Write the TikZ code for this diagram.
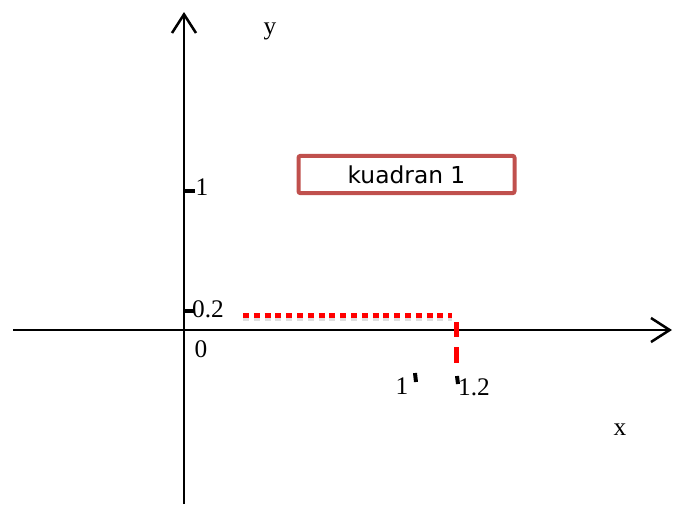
\documentclass[tikz,border=0pt]{standalone}
\usepackage{fontspec}
\setmainfont{Liberation Serif}
\newfontfamily\boxfont{DejaVu Sans}
\usetikzlibrary{arrows.meta}
\definecolor{boxred}{HTML}{C0504D}
\tikzset{
  axis/.style={line width=1.9pt,-{Straight Barb[length=14pt,width=18pt,line width=1.9pt]}},
  ytick/.style={line width=3pt},
  smalltick/.style={line width=3pt},
  lbl/.style={inner sep=0pt,font=\fontsize{19}{21}\selectfont},
  axlbl/.style={inner sep=0pt,font=\fontsize{19}{21}\selectfont},
  reddot/.style={red,line width=3.75pt,dash pattern=on 4.5pt off 3.6pt},
  reddash/.style={red,line width=3.75pt,dash pattern=on 11.5pt off 7.5pt},
  quadbox/.style={draw=boxred,line width=3pt,rounded corners=1.5pt,minimum width=162pt,minimum height=28pt,inner sep=0pt,font=\boxfont\fontsize{17.5}{20}\selectfont}
}
\begin{document}
\begin{tikzpicture}[x=0.75pt,y=-0.75pt]
\useasboundingbox (0,0) rectangle (674,504);
% axes
\coordinate (xs) at (13,330);
\coordinate (xe) at (672,330);
\coordinate (ys) at (184,504);
\coordinate (ye) at (184,12);
\draw[axis] (xs) -- (xe);
\draw[axis] (ys) -- (ye);
\node[axlbl] (ylab) at (270,31) {y};
\node[axlbl] (xlab) at (620,430) {x};
% y ticks
\coordinate (t1a) at (183,190.5);
\coordinate (t1b) at (195,190.5);
\coordinate (t2a) at (183,311);
\coordinate (t2b) at (195,311);
\draw[ytick] (t1a) -- (t1b);
\draw[ytick] (t2a) -- (t2b);
\node[lbl] (l1) at (202,187) {1};
\node[lbl] (l02) at (208,309) {0.2};
\node[lbl] (l0) at (201,349) {0};
% x ticks
\coordinate (xt1a) at (415,373);
\coordinate (xt1b) at (416,382);
\coordinate (xt2a) at (457,376);
\coordinate (xt2b) at (458,384);
\draw[smalltick] (xt1a) -- (xt1b);
\draw[smalltick] (xt2a) -- (xt2b);
\node[lbl] (lx1) at (402,386) {1};
\node[lbl] (lx12) at (474,387) {1.2};
% red lines
\coordinate (ra) at (243,315);
\coordinate (rb) at (452,315);
\coordinate (va) at (456,322);
\coordinate (vb) at (456,363);
\draw[black!25,opacity=0.5,line width=3pt,dash pattern=on 4.5pt off 3.6pt] ([yshift=-3pt]ra) -- ([yshift=-3pt]rb);
\draw[reddot] (ra) -- (rb);
\draw[reddash] (va) -- (vb);
% box
\node[quadbox] (quad) at (406.5,174.5) {kuadran 1};
\end{tikzpicture}
\end{document}
